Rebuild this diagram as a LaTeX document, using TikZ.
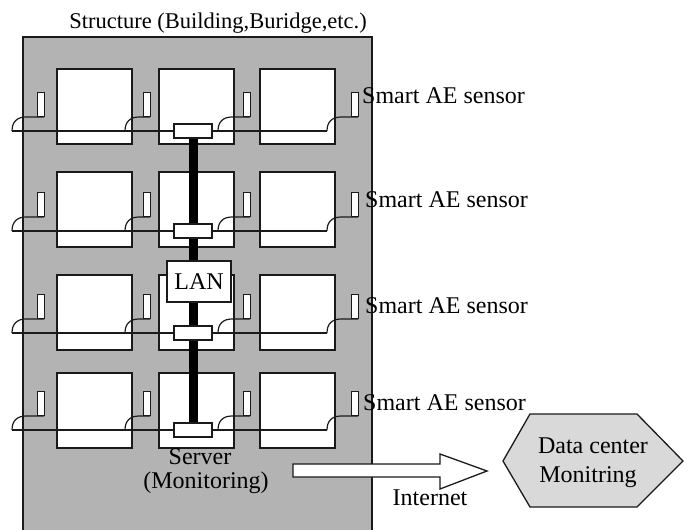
\documentclass[tikz,border=0pt]{standalone}
\usepackage{fontspec}
\setmainfont{Liberation Serif}
\definecolor{bgray}{HTML}{B3B3B3}
\definecolor{hexgray}{HTML}{D9D9D9}
\definecolor{ink}{HTML}{1A1A1A}
\begin{document}
\begin{tikzpicture}[x=1pt,y=-1pt,
  win/.style={draw=ink, fill=white, line width=1.3pt},
  sensorbox/.style={draw=ink, fill=white, line width=1.2pt},
  wire/.style={draw=ink, line width=1.2pt},
  hub/.style={draw=ink, fill=white, line width=1.2pt, minimum width=38pt, minimum height=14pt, inner sep=0pt},
  lbl/.style={font=\fontsize{24}{28}\selectfont, inner sep=0pt},
  bar/.style={line width=9pt, draw=black},
]
\useasboundingbox (0,0) rectangle (689,530);
% building
\fill[bgray] (23,37) rectangle (372,530);
\draw[line width=1.6pt, draw=ink] (23,530) -- (23,37) -- (372,37) -- (372,530);
% windows
\foreach \t in {69,172,275,373}
  \foreach \l in {57,159,260}
    \draw[win] (\l,\t) rectangle ++(75,75);
% wires and sensors
\foreach \L [count=\r] in {131,231,333,430} {
  \draw[wire] (12,\L) -- (327,\L);
  \foreach \s/\a in {37/12,143/125,243/218,351/327} {
    \draw[wire] (\a,\L) .. controls (\a,\L-9) and (\a+5,\L-14) .. (\a+14,\L-14) -- (\s+7,\L-14);
    \node[sensorbox, inner sep=0pt, minimum width=7pt, minimum height=24pt, anchor=south west] (sen\r-\s) at (\s,\L-14) {};
  }
  \coordinate (h\r) at (193,\L);
}
% LAN backbone
\draw[bar] (h1) -- (h4);
\foreach \r in {1,2,3,4}
  \node[hub] (hub\r) at (h\r) {};
\node[lbl, draw=ink, fill=white, line width=1.3pt, minimum width=64pt, minimum height=41pt] (lan) at (199,281.5) {LAN};
% labels
\node[lbl, anchor=base] (title) at (218,28) {\fontsize{22.5}{26}\selectfont Structure (Building,Buridge,etc.)};
\node[lbl, anchor=base west] (s1) at (362,103) {Smart AE sensor};
\node[lbl, anchor=base west] (s2) at (365,207) {Smart AE sensor};
\node[lbl, anchor=base west] (s3) at (365,313) {Smart AE sensor};
\node[lbl, anchor=base west] (s4) at (363,410) {Smart AE sensor};
\node[lbl, anchor=base] (srv1) at (200,464) {Server};
\node[lbl, anchor=base] (srv2) at (206,488) {(Monitoring)};
% internet arrow
\draw[line width=1.3pt, draw=ink, fill=white] (293,464) -- (440,464) -- (440,454) -- (487,471) -- (440,489) -- (440,477) -- (293,477) -- cycle;
\node[lbl, anchor=base] (inet) at (430,505) {Internet};
% data center
\draw[line width=1.3pt, draw=ink, fill=hexgray] (503,461) -- (530,414) -- (637,414) -- (683,461) -- (637,507) -- (530,507) -- cycle;
\node[lbl, anchor=base] (dc1) at (593,453) {Data center};
\node[lbl, anchor=base] (dc2) at (588,482) {Monitring};
\end{tikzpicture}
\end{document}
